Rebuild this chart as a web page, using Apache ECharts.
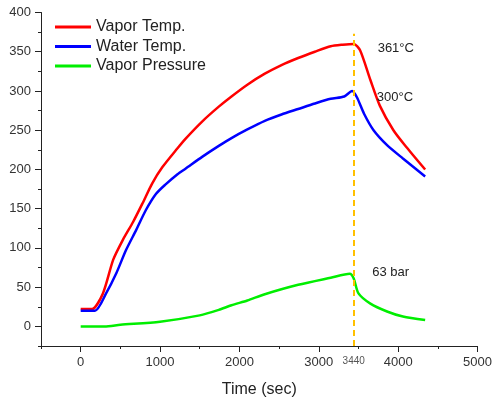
<!DOCTYPE html>
<html>
<head>
<meta charset="utf-8">
<script src="https://cdn.jsdelivr.net/npm/echarts@6/dist/echarts.min.js"></script>
<style>
  html, body { margin: 0; padding: 0; background: #fff; }
  #chart { width: 495px; height: 403px; }
</style>
</head>
<body>
<div id="chart"></div>
<script>
// values
var seriesNames = ['Vapor Temp.', 'Water Temp.', 'Vapor Pressure'];

var vaporTempTime = [0, 140, 280, 410, 530, 660, 780, 900, 1030, 1220, 1320, 1530, 1740, 1900, 2100, 2320, 2530, 2740, 2950, 3150, 3300, 3440, 3520, 3650, 3770, 3940, 4100, 4340];
var vaporTemp     = [22, 22, 42, 85, 110, 133, 157, 182, 203, 227, 239, 261, 280, 293, 308, 322, 333, 342, 350, 357, 359, 360, 352, 314, 281, 250, 229, 200];

var waterTempTime = [0, 180, 320, 450, 570, 700, 820, 950, 1070, 1220, 1320, 1530, 1740, 1900, 2100, 2320, 2530, 2740, 2950, 3150, 3320, 3420, 3480, 3570, 3690, 3860, 4060, 4340];
var waterTemp     = [20, 20, 42, 68, 97, 123, 148, 169, 181, 194, 201, 216, 230, 240, 251, 262, 270, 277, 284, 290, 293, 300, 292, 271, 250, 231, 214, 191];

var pressureTime  = [0, 300, 500, 1000, 1500, 1740, 1900, 2100, 2320, 2740, 3150, 3390, 3440, 3500, 3650, 3860, 4060, 4340];
var pressure      = [0, 0, 2, 6, 14, 21, 27, 33, 41, 53, 62, 67, 61, 42, 29, 19, 12.5, 8];

var markTime = 3440;
var xLabels = [0, 1000, 2000, 3000, 4000, 5000];
var xMinor = [-500, 500, 1500, 2500, 3500, 4500];
var yLabels = [0, 50, 100, 150, 200, 250, 300, 350, 400];
var yMinor = [-25, 25, 75, 125, 175, 225, 275, 325, 375];

// annotations: [text, time, value]
var notes = [
  ['361°C', 3970, 354],
  ['300°C', 3960, 292],
  ['63 bar', 3905, 69]
];

function pairs(t, v) {
  return t.map(function (x, i) { return [x, v[i]]; });
}

var font = 'Liberation Sans, Arial, sans-serif';
var axisColor = '#222';

function note(i) {
  return {
    symbol: 'circle',
    symbolSize: 0,
    silent: true,
    label: { show: true, position: 'inside', color: '#222', fontSize: 13, fontFamily: font, formatter: notes[i][0] },
    data: [{ coord: [notes[i][1], notes[i][2]] }]
  };
}

function plain(v) { return String(v); }

var myChart = echarts.init(document.getElementById('chart'));

var option = {
  animation: false,
  backgroundColor: '#fff',
  grid: { left: 41, right: 14, top: 12.5, bottom: 57 },
  legend: {
    left: 50,
    top: 14,
    orient: 'vertical',
    icon: 'rect',
    itemWidth: 36,
    itemHeight: 3,
    itemGap: 3.5,
    textStyle: { fontSize: 16, lineHeight: 16, color: '#222', fontFamily: font },
    data: seriesNames
  },
  xAxis: [{
    type: 'value',
    min: -500,
    max: 5000,
    name: 'Time (sec)',
    nameLocation: 'middle',
    nameGap: 36,
    nameTextStyle: { fontSize: 16, color: '#222', fontFamily: font },
    axisLine: { show: true, onZero: false, lineStyle: { color: axisColor, width: 1 } },
    axisTick: { show: true, length: 6, customValues: xLabels, lineStyle: { color: axisColor } },
    axisLabel: { customValues: xLabels, formatter: plain, margin: 10, fontSize: 13, color: '#333', fontFamily: font },
    splitLine: { show: false }
  }, {
    type: 'value',
    min: -500,
    max: 5000,
    position: 'bottom',
    axisLine: { show: false, onZero: false },
    axisTick: { show: true, length: 3, customValues: xMinor, lineStyle: { color: axisColor } },
    axisLabel: { show: false },
    splitLine: { show: false }
  }],
  yAxis: [{
    type: 'value',
    min: -25,
    max: 400,
    axisLine: { show: true, onZero: false, lineStyle: { color: axisColor, width: 1 } },
    axisTick: { show: true, length: 6, customValues: yLabels, lineStyle: { color: axisColor } },
    axisLabel: { customValues: yLabels, formatter: plain, margin: 10, fontSize: 13, color: '#333', fontFamily: font },
    splitLine: { show: false }
  }, {
    type: 'value',
    min: -25,
    max: 400,
    position: 'left',
    axisLine: { show: false, onZero: false },
    axisTick: { show: true, length: 3, customValues: yMinor, lineStyle: { color: axisColor } },
    axisLabel: { show: false },
    splitLine: { show: false }
  }],
  series: [{
    name: seriesNames[0],
    type: 'line',
    data: pairs(vaporTempTime, vaporTemp),
    showSymbol: false,
    smooth: 0.25,
    color: '#ff0000',
    lineStyle: { width: 2.5 },
    z: 3,
    markPoint: note(0),
    markLine: {
      silent: true,
      symbol: 'none',
      lineStyle: { color: '#ffc000', type: [6, 4], width: 2 },
      label: { show: true, position: 'start', distance: 10, formatter: String(markTime), fontSize: 10, color: '#555', fontFamily: font },
      data: [[{ coord: [markTime, -25] }, { coord: [markTime, 373] }]]
    }
  }, {
    name: seriesNames[1],
    type: 'line',
    data: pairs(waterTempTime, waterTemp),
    showSymbol: false,
    smooth: 0.25,
    color: '#0000ff',
    lineStyle: { width: 2.5 },
    markPoint: note(1)
  }, {
    name: seriesNames[2],
    type: 'line',
    data: pairs(pressureTime, pressure),
    showSymbol: false,
    smooth: 0.25,
    color: '#00ee00',
    lineStyle: { width: 2.5 },
    markPoint: note(2)
  }]
};

myChart.setOption(option);
</script>
</body>
</html>
